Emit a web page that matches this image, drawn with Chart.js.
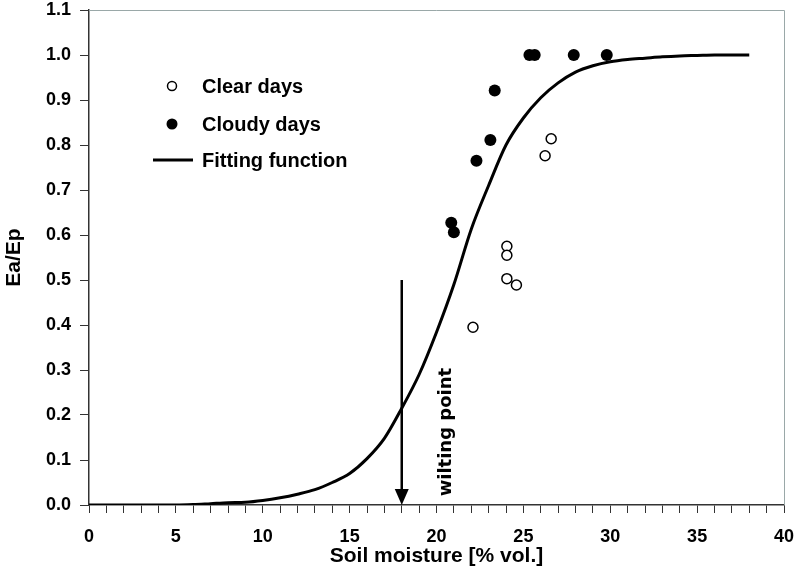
<!DOCTYPE html>
<html>
<head>
<meta charset="utf-8">
<script src="https://cdn.jsdelivr.net/npm/chart.js@4/dist/chart.umd.min.js"></script>
<style>
  html, body { margin: 0; padding: 0; background: #fff; }
  #wrap { width: 794px; height: 580px; }
</style>
</head>
<body>
<div id="wrap"><canvas id="chart" width="794" height="580"></canvas></div>
<script>
// --- data ---
const curveX = [0, 1, 2, 3, 4, 5, 6, 7, 8, 9, 10, 11, 12, 13, 14, 15, 16, 17, 18, 19,
  20, 21, 22, 23, 24, 25, 26, 27, 28, 29, 30, 31, 32, 33, 34, 35, 36, 37, 38];
const curveY = [0, 0, 0, 0, 0, 0, 0.001, 0.003, 0.005, 0.006, 0.01, 0.016, 0.024, 0.034, 0.05,
  0.07, 0.103, 0.148, 0.215, 0.29, 0.384, 0.49, 0.613, 0.71, 0.8, 0.86, 0.905, 0.938, 0.962,
  0.976, 0.985, 0.99, 0.993, 0.996, 0.998, 0.999, 1, 1, 1];

const clearX = [22.1, 24.05, 24.05, 24.05, 24.6, 26.25, 26.6];
const clearY = [0.395, 0.575, 0.555, 0.503, 0.489, 0.776, 0.814];

const cloudyX = [20.85, 21.0, 22.3, 23.1, 23.35, 25.35, 25.65, 27.9, 29.8];
const cloudyY = [0.627, 0.606, 0.765, 0.811, 0.921, 1.0, 1.0, 1.0, 1.0];

const wiltingPoint = 18;
const arrowTop = 0.5;
const wiltingLabelX = 20.55;
const wiltingLabelY = 0.162;

const legendLabels = ['Clear days', 'Cloudy days', 'Fitting function'];

const toXY = (xs, ys) => xs.map((x, i) => ({ x: x, y: ys[i] }));

const FONT = "'Liberation Sans', Arial, sans-serif";

// arrowhead, label, legend and plot frame
const extras = {
  id: 'extras',
  afterDatasetsDraw(chart) {
    const ctx = chart.ctx;
    const xs = chart.scales.x, ys = chart.scales.y;
    const area = chart.chartArea;

    // grey frame top / right
    ctx.save();
    ctx.strokeStyle = '#9aa8a8';
    ctx.lineWidth = 1;
    ctx.beginPath();
    ctx.moveTo(area.left, area.top + 0.5);
    ctx.lineTo(area.right + 0.5, area.top + 0.5);
    ctx.lineTo(area.right + 0.5, area.bottom);
    ctx.stroke();
    ctx.restore();

    // arrowhead
    const ax = xs.getPixelForValue(wiltingPoint);
    const ay = ys.getPixelForValue(0);
    ctx.save();
    ctx.fillStyle = '#000';
    ctx.beginPath();
    ctx.moveTo(ax, ay);
    ctx.lineTo(ax - 7, ay - 16);
    ctx.lineTo(ax + 7, ay - 16);
    ctx.closePath();
    ctx.fill();
    ctx.restore();

    // wilting point label
    ctx.save();
    ctx.translate(xs.getPixelForValue(wiltingLabelX), ys.getPixelForValue(wiltingLabelY));
    ctx.rotate(-Math.PI / 2);
    ctx.fillStyle = '#000';
    ctx.font = "bold 18px 'DejaVu Sans', Verdana, sans-serif";
    ctx.textAlign = 'center';
    ctx.textBaseline = 'middle';
    ctx.fillText('wilting point', 0, 0);
    ctx.restore();

    // legend
    ctx.save();
    ctx.font = 'bold 20px ' + FONT;
    ctx.textBaseline = 'middle';
    ctx.textAlign = 'left';
    const lx = 172, tx = 202;
    const rows = [86, 124, 160];
    // open circle
    ctx.beginPath();
    ctx.arc(lx, rows[0], 4.5, 0, Math.PI * 2);
    ctx.fillStyle = '#fff';
    ctx.fill();
    ctx.lineWidth = 1.5;
    ctx.strokeStyle = '#000';
    ctx.stroke();
    // filled circle
    ctx.beginPath();
    ctx.arc(lx, rows[1], 5.5, 0, Math.PI * 2);
    ctx.fillStyle = '#000';
    ctx.fill();
    // line
    ctx.beginPath();
    ctx.moveTo(153, rows[2]);
    ctx.lineTo(193, rows[2]);
    ctx.lineWidth = 3;
    ctx.stroke();
    legendLabels.forEach((t, i) => ctx.fillText(t, tx, rows[i] + 1));
    ctx.restore();
  }
};

new Chart(document.getElementById('chart').getContext('2d'), {
  type: 'scatter',
  data: {
    datasets: [
      {
        label: 'Fitting function',
        data: toXY(curveX, curveY),
        showLine: true,
        borderColor: '#000',
        borderWidth: 3,
        pointRadius: 0,
        cubicInterpolationMode: 'monotone',
        order: 3
      },
      {
        label: 'wilting point',
        data: [{ x: wiltingPoint, y: arrowTop }, { x: wiltingPoint, y: 0.01 }],
        showLine: true,
        borderColor: '#000',
        borderWidth: 2.5,
        pointRadius: 0,
        order: 4
      },
      {
        label: 'Clear days',
        data: toXY(clearX, clearY),
        pointStyle: 'circle',
        pointRadius: 5,
        pointBackgroundColor: '#fff',
        pointBorderColor: '#000',
        pointBorderWidth: 1.5,
        order: 1
      },
      {
        label: 'Cloudy days',
        data: toXY(cloudyX, cloudyY),
        pointStyle: 'circle',
        pointRadius: 6,
        pointBackgroundColor: '#000',
        pointBorderColor: '#000',
        pointBorderWidth: 0,
        order: 2
      }
    ]
  },
  options: {
    responsive: false,
    animation: false,
    layout: { padding: { top: 10, right: 10, left: 0, bottom: 0 } },
    plugins: {
      legend: { display: false },
      tooltip: { enabled: false }
    },
    scales: {
      x: {
        type: 'linear',
        min: 0,
        max: 40,
        afterFit: s => {
          s.height = 75;
          s.paddingLeft = 0;
          s.paddingRight = 0;
        },
        ticks: {
          stepSize: 1,
          autoSkip: false,
          maxRotation: 0,
          padding: 13,
          color: '#000',
          font: { family: FONT, size: 18, weight: 'bold' },
          callback: v => (v % 5 === 0 ? String(v) : '')
        },
        grid: { drawOnChartArea: false, drawTicks: true, tickLength: 8, color: '#333', lineWidth: 1 },
        border: { color: '#333', width: 1.5 },
        title: {
          display: true,
          text: 'Soil moisture [% vol.]',
          color: '#000',
          font: { family: FONT, size: 21, weight: 'bold' },
          padding: { top: 0, bottom: 11 }
        }
      },
      y: {
        min: 0,
        max: 1.1,
        afterFit: s => {
          s.width = 89;
          s.paddingTop = 0;
          s.paddingBottom = 0;
        },
        ticks: {
          stepSize: 0.1,
          padding: 9,
          color: '#000',
          font: { family: FONT, size: 18, weight: 'bold' },
          callback: v => v.toFixed(1)
        },
        grid: { drawOnChartArea: false, drawTicks: true, tickLength: 9, color: '#333', lineWidth: 1 },
        border: { color: '#333', width: 1.5 },
        title: {
          display: true,
          text: 'Ea/Ep',
          color: '#000',
          font: { family: FONT, size: 21, weight: 'bold' },
          padding: { top: 2, bottom: 0 }
        }
      }
    }
  },
  plugins: [extras]
});
</script>
</body>
</html>
